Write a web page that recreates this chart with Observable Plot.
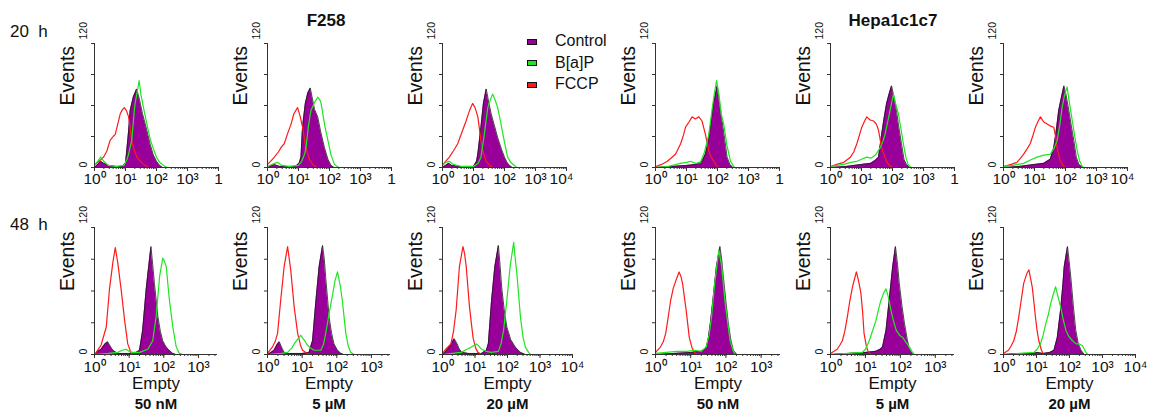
<!DOCTYPE html>
<html><head><meta charset="utf-8">
<script src="https://cdn.jsdelivr.net/npm/d3@7"></script>
<script src="https://cdn.jsdelivr.net/npm/@observablehq/plot@0.6"></script>
<style>
html,body{margin:0;padding:0;background:#fff;}
#fig{position:relative;width:1152px;height:414px;overflow:hidden;font-family:"Liberation Sans",Arial,Helvetica,sans-serif;color:#111;}
.abs{position:absolute;white-space:nowrap;}
.title{font-weight:bold;font-size:17px;transform:translateX(-50%);}
.rowlab{font-size:17px;}
.leg{font-size:16px;height:20px;line-height:20px;}
.sw{display:inline-block;width:8px;height:4px;border:1px solid #111;vertical-align:middle;margin-right:18px;}
</style></head><body><div id="fig"></div><script>
// ---------- labels ----------
const rowLabels = ["20\u00a0 h", "48\u00a0 h"];
const cellLines = ["F258", "Hepa1c1c7"];
const doses = ["50 nM", "5 \u00b5M", "20 \u00b5M", "50 nM", "5 \u00b5M", "20 \u00b5M"];
const seriesNames = ["Control", "B[a]P", "FCCP"];
const yLabel = "Events";
const xLabel = "Empty";
const xMajorTicks = [1, 10, 100, 1000, 10000];
const xTickLabels = ["10\u2070", "10\u00b9", "10\u00b2", "10\u00b3", "10\u2074"];
const xTickLabelsCut = ["10\u2070", "10\u00b9", "10\u00b2", "10\u00b3", "1"];
const yTicks = [0, 30, 60, 90, 120];
const yLabeledTicks = [0, 120];

// ---------- data: [log10 fluorescence, events] ----------
// 20 h, F258
const r1c1Control = [[0,0],[0.1,3],[0.2,6],[0.3,4],[0.45,2],[0.7,1],[0.9,1],[1.0,4],[1.04,16],[1.1,35],[1.15,55],[1.25,68],[1.36,76],[1.45,66],[1.55,52],[1.69,36],[1.8,22],[1.9,12],[2.0,6],[2.1,2],[2.2,0],[4,0]];
const r1c1BaP = [[0,2],[0.1,6],[0.2,10],[0.3,6],[0.45,2],[0.7,1],[0.95,2],[1.05,8],[1.1,13],[1.2,26],[1.3,60],[1.44,84],[1.5,70],[1.6,55],[1.69,42],[1.8,27],[1.9,18],[2.0,10],[2.1,5],[2.23,2],[2.35,0],[4,0]];
const r1c1FCCP = [[0,3],[0.15,6],[0.29,10],[0.4,16],[0.5,26],[0.6,30],[0.67,32],[0.75,42],[0.83,52],[0.9,56],[0.96,58],[1.03,55],[1.1,49],[1.15,38],[1.2,26],[1.28,17],[1.37,10],[1.48,6],[1.58,3],[1.75,0],[4,0]];
const r1c2Control = [[0,0],[0.2,3],[0.4,1],[0.9,1],[1.02,4],[1.08,10],[1.13,39],[1.22,62],[1.3,72],[1.38,77],[1.44,68],[1.52,56],[1.62,49],[1.72,34],[1.84,19],[1.95,8],[2.05,2],[2.15,0],[4,0]];
const r1c2BaP = [[0,1],[0.15,3],[0.32,5],[0.45,2],[0.7,1],[1.0,2],[1.1,6],[1.2,13],[1.24,19],[1.32,40],[1.4,55],[1.5,62],[1.62,68],[1.68,66],[1.73,62],[1.85,40],[1.95,26],[2.05,12],[2.16,3],[2.3,0],[4,0]];
const r1c2FCCP = [[0,3],[0.1,6],[0.22,10],[0.35,15],[0.45,20],[0.54,23],[0.65,33],[0.76,42],[0.85,52],[0.97,58],[1.05,50],[1.13,39],[1.24,19],[1.35,8],[1.46,3],[1.6,0],[4,0]];
const r1c3Control = [[0,0],[0.1,2],[0.2,4],[0.3,2],[0.6,1],[1.0,1],[1.1,6],[1.14,13],[1.24,39],[1.32,62],[1.41,76],[1.5,62],[1.57,52],[1.68,40],[1.78,29],[1.9,18],[2.0,10],[2.08,5],[2.16,2],[2.25,0],[4,0]];
const r1c3BaP = [[0,2],[0.1,5],[0.22,6],[0.35,3],[0.6,1],[1.0,1],[1.15,4],[1.24,10],[1.35,32],[1.46,58],[1.55,66],[1.62,71],[1.7,65],[1.78,58],[1.87,45],[1.95,32],[2.03,20],[2.1,10],[2.2,5],[2.32,2],[2.4,0],[4,0]];
const r1c3FCCP = [[0,2],[0.1,6],[0.22,10],[0.35,16],[0.49,23],[0.6,32],[0.76,45],[0.87,55],[0.97,62],[1.05,58],[1.14,49],[1.24,26],[1.32,14],[1.41,6],[1.55,1],[1.65,0],[4,0]];
// 20 h, Hepa1c1c7
const r1c4Control = [[0,0],[0.5,1],[1.0,2],[1.3,3],[1.5,6],[1.61,13],[1.7,26],[1.77,39],[1.87,62],[1.99,79],[2.06,64],[2.15,45],[2.23,28],[2.31,10],[2.4,3],[2.5,0],[4,0]];
const r1c4BaP = [[0,0],[0.4,1],[0.8,4],[1.0,5],[1.13,6],[1.3,4],[1.45,5],[1.56,13],[1.64,22],[1.72,32],[1.82,55],[1.9,72],[1.97,84],[2.05,70],[2.12,52],[2.2,42],[2.3,22],[2.42,6],[2.55,0],[4,0]];
const r1c4FCCP = [[0,1],[0.2,3],[0.38,6],[0.5,9],[0.65,13],[0.81,23],[0.9,31],[0.97,39],[1.08,44],[1.18,49],[1.28,47],[1.4,49],[1.5,45],[1.61,32],[1.72,16],[1.8,10],[1.88,6],[1.96,2],[2.04,0],[4,0]];
const r1c5Control = [[0,0],[0.5,1],[1.0,3],[1.3,4],[1.45,7],[1.55,10],[1.65,32],[1.73,48],[1.81,62],[1.9,72],[1.97,79],[2.05,68],[2.13,55],[2.2,40],[2.29,23],[2.37,8],[2.45,3],[2.55,0],[4,0]];
const r1c5BaP = [[0,1],[0.2,2],[0.43,3],[0.65,5],[0.85,6],[1.0,8],[1.17,10],[1.3,9],[1.45,12],[1.6,19],[1.7,26],[1.76,32],[1.85,45],[1.92,55],[2.03,71],[2.1,62],[2.19,52],[2.27,38],[2.35,23],[2.43,10],[2.5,3],[2.6,0],[4,0]];
const r1c5FCCP = [[0,1],[0.2,3],[0.43,5],[0.64,10],[0.75,15],[0.85,23],[1.01,39],[1.1,45],[1.17,49],[1.28,46],[1.39,45],[1.48,42],[1.55,36],[1.65,19],[1.73,12],[1.81,6],[1.9,2],[2.0,0],[4,0]];
const r1c6Control = [[0,0],[0.5,1],[1.0,3],[1.3,4],[1.51,8],[1.62,19],[1.7,35],[1.78,55],[1.87,68],[1.95,79],[2.02,70],[2.11,55],[2.19,40],[2.27,26],[2.35,10],[2.43,3],[2.55,0],[4,0]];
const r1c6BaP = [[0,1],[0.3,2],[0.65,4],[0.85,7],[1.08,10],[1.3,12],[1.51,13],[1.62,18],[1.73,26],[1.82,42],[1.89,58],[1.97,70],[2.05,78],[2.13,62],[2.22,45],[2.3,30],[2.38,16],[2.46,6],[2.54,1],[2.6,0],[4,0]];
const r1c6FCCP = [[0,1],[0.25,3],[0.43,5],[0.55,9],[0.65,13],[0.76,18],[0.86,23],[0.95,31],[1.03,39],[1.12,45],[1.19,49],[1.3,44],[1.41,42],[1.52,40],[1.62,39],[1.68,30],[1.73,19],[1.8,10],[1.84,6],[1.92,2],[2.0,0],[4,0]];
// 48 h, F258
const r2c1Control = [[0,0],[0.1,3],[0.19,5],[0.3,10],[0.38,12],[0.45,8],[0.53,4],[0.67,1],[1.0,1],[1.2,2],[1.3,4],[1.39,23],[1.49,61],[1.56,82],[1.63,102],[1.68,85],[1.73,67],[1.83,36],[1.9,22],[1.97,13],[2.05,8],[2.12,5],[2.26,1],[2.35,0],[4,0]];
const r2c1BaP = [[0,0],[0.4,1],[0.67,2],[0.8,4],[0.91,5],[1.0,3],[1.1,2],[1.3,2],[1.54,5],[1.68,13],[1.78,36],[1.88,74],[1.97,91],[2.02,88],[2.07,83],[2.16,52],[2.26,26],[2.36,7],[2.45,1],[2.55,0],[4,0]];
const r2c1FCCP = [[0,0],[0.05,2],[0.19,9],[0.34,26],[0.43,61],[0.53,87],[0.6,101],[0.67,87],[0.77,61],[0.87,32],[0.96,10],[1.06,1],[1.15,0],[4,0]];
const r2c2Control = [[0,0],[0.1,2],[0.19,4],[0.27,9],[0.34,12],[0.42,6],[0.48,2],[0.6,1],[1.0,1],[1.2,2],[1.3,13],[1.39,48],[1.49,83],[1.59,103],[1.64,90],[1.68,73],[1.78,35],[1.85,20],[1.92,10],[2.02,4],[2.12,1],[2.2,0],[4,0]];
const r2c2BaP = [[0,0],[0.4,1],[0.58,2],[0.7,6],[0.77,10],[0.88,15],[0.96,18],[1.05,14],[1.15,9],[1.25,6],[1.35,4],[1.54,4],[1.62,10],[1.68,20],[1.78,39],[1.88,57],[1.95,70],[2.02,78],[2.1,65],[2.16,51],[2.26,20],[2.33,8],[2.4,2],[2.5,0],[4,0]];
const r2c2FCCP = [[0,1],[0.14,7],[0.22,12],[0.29,20],[0.38,51],[0.48,83],[0.58,102],[0.67,80],[0.77,45],[0.87,20],[0.95,9],[1.01,4],[1.15,1],[1.25,0],[4,0]];
const r2c3Control = [[0,0],[0.1,3],[0.21,7],[0.36,15],[0.45,10],[0.52,5],[0.6,2],[0.8,1],[1.2,1],[1.35,4],[1.41,10],[1.51,51],[1.61,83],[1.72,103],[1.77,85],[1.82,64],[1.9,42],[1.98,26],[2.1,14],[2.24,7],[2.4,2],[2.55,0],[4,0]];
const r2c3BaP = [[0,0],[0.3,1],[0.57,2],[0.75,5],[0.89,7],[1.04,10],[1.12,8],[1.2,5],[1.35,3],[1.5,2],[1.72,3],[1.8,10],[1.88,23],[1.98,51],[2.08,83],[2.19,106],[2.24,90],[2.29,76],[2.4,35],[2.48,16],[2.55,7],[2.65,2],[2.71,0],[4,0]];
const r2c3FCCP = [[0,1],[0.1,5],[0.26,10],[0.34,22],[0.42,42],[0.52,83],[0.63,102],[0.68,95],[0.73,83],[0.83,45],[0.94,16],[1.02,6],[1.09,2],[1.2,0],[4,0]];
// 48 h, Hepa1c1c7
const r2c4Control = [[0,0],[0.5,1],[1.0,2],[1.3,3],[1.43,6],[1.49,13],[1.56,30],[1.63,51],[1.73,83],[1.83,102],[1.88,90],[1.92,76],[2.0,50],[2.07,29],[2.14,14],[2.21,4],[2.31,0],[4,0]];
const r2c4BaP = [[0,1],[0.3,2],[0.6,3],[0.9,3],[1.1,4],[1.3,3],[1.44,7],[1.52,18],[1.59,35],[1.68,67],[1.8,99],[1.88,83],[1.97,51],[2.05,30],[2.12,13],[2.2,4],[2.26,0],[4,0]];
const r2c4FCCP = [[0,2],[0.14,7],[0.22,12],[0.29,20],[0.36,35],[0.43,51],[0.5,62],[0.58,70],[0.67,78],[0.72,74],[0.77,67],[0.87,42],[0.96,16],[1.04,6],[1.11,2],[1.2,0],[4,0]];
const r2c5Control = [[0,0],[0.5,1],[1.0,2],[1.3,3],[1.42,5],[1.49,7],[1.59,23],[1.68,51],[1.78,83],[1.86,102],[1.92,85],[1.97,67],[2.05,45],[2.12,29],[2.2,14],[2.26,5],[2.36,0],[4,0]];
const r2c5BaP = [[0,0],[0.5,1],[0.91,2],[1.0,5],[1.11,13],[1.2,22],[1.3,32],[1.37,42],[1.44,51],[1.52,58],[1.59,62],[1.65,55],[1.73,42],[1.8,32],[1.88,23],[1.98,18],[2.07,16],[2.17,11],[2.26,7],[2.33,3],[2.4,0],[4,0]];
const r2c5FCCP = [[0,1],[0.19,5],[0.27,9],[0.34,13],[0.41,22],[0.48,35],[0.55,50],[0.63,64],[0.74,78],[0.8,70],[0.87,58],[0.92,40],[0.96,20],[1.02,9],[1.06,4],[1.15,0],[4,0]];
const r2c6Control = [[0,0],[0.5,1],[0.9,1],[1.02,2],[1.2,1],[1.4,2],[1.53,4],[1.63,16],[1.73,42],[1.8,66],[1.84,83],[1.94,102],[1.99,88],[2.04,73],[2.12,45],[2.19,23],[2.27,10],[2.35,4],[2.45,0],[4,0]];
const r2c6BaP = [[0,0],[0.5,1],[0.92,2],[1.02,5],[1.12,10],[1.2,18],[1.28,29],[1.36,38],[1.43,48],[1.5,56],[1.58,64],[1.65,55],[1.73,45],[1.81,33],[1.89,23],[1.98,17],[2.09,13],[2.2,10],[2.3,10],[2.4,8],[2.48,3],[2.55,0],[4,0]];
const r2c6FCCP = [[0,1],[0.15,4],[0.23,8],[0.31,13],[0.39,22],[0.46,35],[0.54,52],[0.61,67],[0.7,76],[0.77,80],[0.82,72],[0.87,64],[0.92,50],[0.97,35],[1.02,22],[1.07,13],[1.15,4],[1.22,0],[4,0]];

// ---------- styling / layout ----------
const colors = {control: "#990099", bap: "#1ee61e", fccp: "#ff1a1a"};
const axisColor = "#333";
const colAxisLeft = [94, 267, 442, 655, 830, 1003];
const rowLayout = [{top: 35, mt: 8, plotH: 124, mb: 30, tickDy: 16}, {top: 219, mt: 8, plotH: 127, mb: 60, tickDy: 17}];
const axisWidth = [[124, 124, 124, 124, 124, 124], [123, 123, 130, 125, 124, 132]];
const axisMaxExp = [[4, 4, 4, 4, 4, 4], [3.55, 3.55, 4, 3.55, 3.55, 4]];
const fullLabelCols = [2, 5];

const panelData = [
  [[r1c1Control, r1c1BaP, r1c1FCCP], [r1c2Control, r1c2BaP, r1c2FCCP], [r1c3Control, r1c3BaP, r1c3FCCP],
   [r1c4Control, r1c4BaP, r1c4FCCP], [r1c5Control, r1c5BaP, r1c5FCCP], [r1c6Control, r1c6BaP, r1c6FCCP]],
  [[r2c1Control, r2c1BaP, r2c1FCCP], [r2c2Control, r2c2BaP, r2c2FCCP], [r2c3Control, r2c3BaP, r2c3FCCP],
   [r2c4Control, r2c4BaP, r2c4FCCP], [r2c5Control, r2c5BaP, r2c5FCCP], [r2c6Control, r2c6BaP, r2c6FCCP]]
];

const toRows = pts => pts.map(([e, n]) => ({x: 10 ** e, y: n}));
const fig = document.getElementById("fig");
const font = '"Liberation Sans", Arial, Helvetica, sans-serif';

function makePanel(row, col) {
  const L = rowLayout[row];
  const w = axisWidth[row][col];
  const xMax = 10 ** axisMaxExp[row][col];
  const ml = 46, mr = 16;
  const [ctrl, bap, fccp] = panelData[row][col].map(toRows);
  const majors = xMajorTicks.filter(t => t <= xMax * 1.0001);
  const fullCol = fullLabelCols.includes(col);
  const labels = (row === 0 && !fullCol) ? xTickLabelsCut : xTickLabels;
  const shiftLast = row === 0 && fullCol;
  const centered = shiftLast ? majors.slice(0, -1) : majors;
  const tickText = d => labels[xMajorTicks.indexOf(d)];
  const marks = [
    Plot.areaY(ctrl, {x: "x", y: "y", fill: colors.control, clip: true}),
    Plot.lineY(ctrl, {x: "x", y: "y", stroke: "#1a1a1a", strokeWidth: 0.8, clip: true}),
    Plot.lineY(fccp, {x: "x", y: "y", stroke: colors.fccp, strokeWidth: 1.2, clip: true}),
    Plot.lineY(bap, {x: "x", y: "y", stroke: colors.bap, strokeWidth: 1.2, clip: true}),
    Plot.ruleX([1], {stroke: axisColor}),
    Plot.ruleY([0], {stroke: axisColor}),
    Plot.axisX({ticks: 40, tickSize: 2, tickFormat: () => "", stroke: axisColor}),
    Plot.axisX({ticks: majors, tickSize: 4, tickFormat: () => "", stroke: axisColor}),
    Plot.text(centered, {x: d => d, text: tickText, frameAnchor: "bottom", dy: L.tickDy, fontSize: 15.5}),
    Plot.axisY({ticks: yTicks, tickSize: 3, tickFormat: () => "", stroke: axisColor}),
    Plot.text([yLabeledTicks[0]], {y: d => d, text: d => String(d), frameAnchor: "left", rotate: -90, dx: -11, fontSize: 10.5}),
    Plot.text([yLabeledTicks[1]], {y: d => d, text: d => String(d), frameAnchor: "left", rotate: -90, dx: -11, dy: -4, fontSize: 10.5}),
    Plot.text([yLabel], {text: d => d, frameAnchor: "left", rotate: -90, dx: -27, fontSize: 19.5})
  ];
  if (shiftLast) {
    marks.push(Plot.text(majors.slice(-1), {x: d => d, text: tickText, frameAnchor: "bottom", dy: L.tickDy, dx: -5, fontSize: 15.5}));
  }
  if (row === 1) {
    marks.push(Plot.text([xLabel], {text: d => d, frameAnchor: "bottom", dy: 34, fontSize: 17}));
    marks.push(Plot.text([doses[col]], {text: d => d, frameAnchor: "bottom", dy: 54, fontSize: 15, fontWeight: "bold"}));
  }
  const chart = Plot.plot({
    width: ml + w + mr,
    height: L.mt + L.plotH + L.mb,
    marginLeft: ml, marginRight: mr, marginTop: L.mt, marginBottom: L.mb,
    style: {background: "transparent", overflow: "visible", fontFamily: font, color: "#111"},
    x: {type: "log", domain: [1, xMax], label: null},
    y: {domain: [0, 120], label: null},
    marks
  });
  chart.style.position = "absolute";
  chart.style.left = (colAxisLeft[col] - ml) + "px";
  chart.style.top = L.top + "px";
  chart.style.maxWidth = "none";
  fig.appendChild(chart);
}

for (let r = 0; r < 2; r++) for (let c = 0; c < 6; c++) makePanel(r, c);

// titles
const titleCenters = [326, 893];
cellLines.forEach((t, i) => {
  const d = document.createElement("div");
  d.className = "abs title";
  d.style.left = titleCenters[i] + "px";
  d.style.top = "11px";
  d.textContent = t;
  fig.appendChild(d);
});
// row labels
const rowLabelTops = [22, 215];
rowLabels.forEach((t, i) => {
  const d = document.createElement("div");
  d.className = "abs rowlab";
  d.style.left = "10px";
  d.style.top = rowLabelTops[i] + "px";
  d.textContent = t;
  fig.appendChild(d);
});
// legend
const legendColors = [colors.control, colors.bap, colors.fccp];
seriesNames.forEach((name, i) => {
  const d = document.createElement("div");
  d.className = "abs leg";
  d.style.left = "527px";
  d.style.top = (31 + i * 21.5) + "px";
  const sw = document.createElement("span");
  sw.className = "sw";
  sw.style.background = legendColors[i];
  d.appendChild(sw);
  d.appendChild(document.createTextNode(name));
  fig.appendChild(d);
});
</script></body></html>
